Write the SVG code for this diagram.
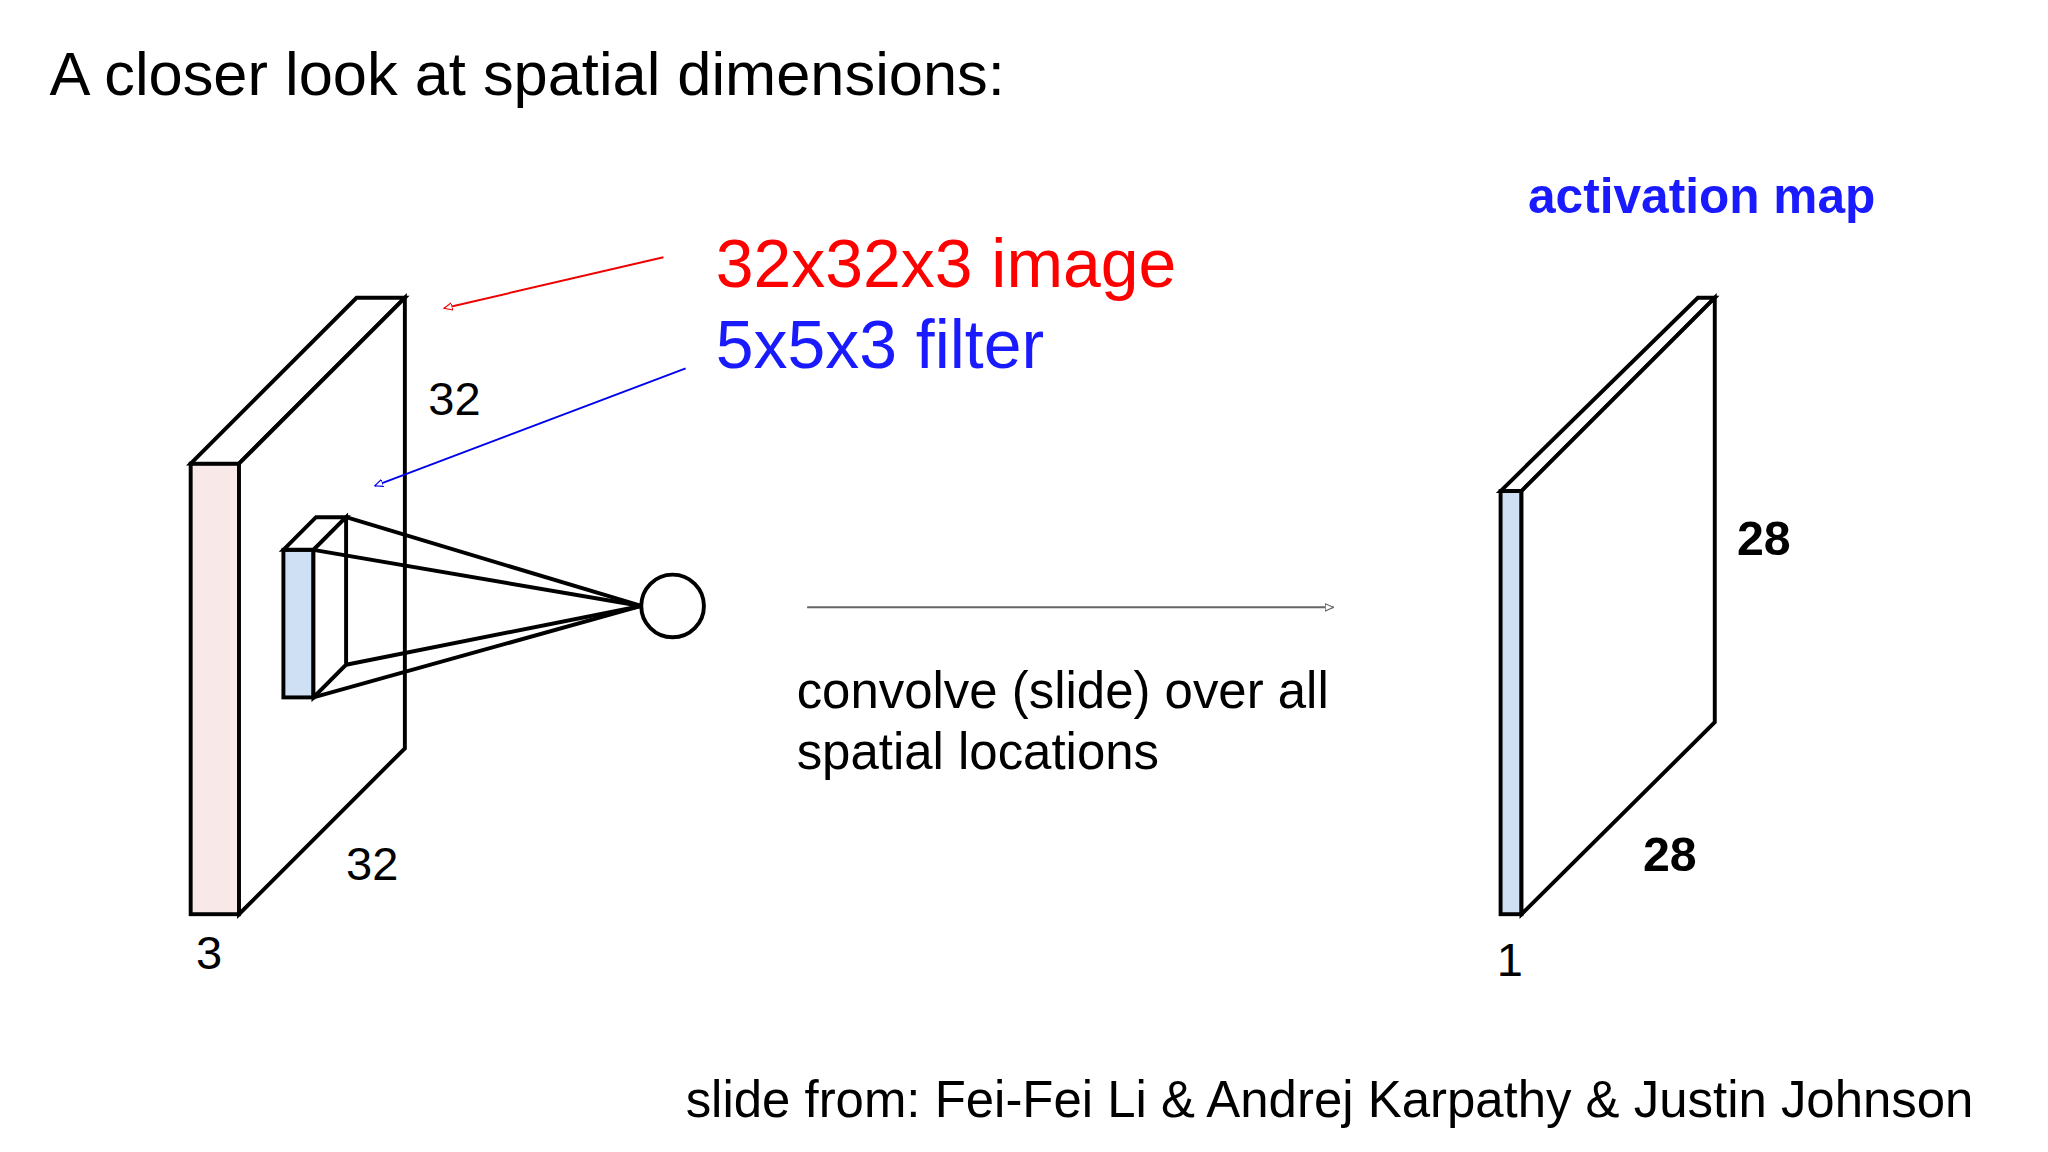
<svg xmlns="http://www.w3.org/2000/svg" width="2048" height="1152" viewBox="0 0 2048 1152">
<style>
text{font-family:"Liberation Sans",Arial,sans-serif;fill:#000}
.s{stroke:#000;stroke-width:3;stroke-linejoin:miter}
.c{stroke:#000;stroke-width:3}
</style>
<defs>
<marker id="ar" viewBox="0 0 10 10" refX="9" refY="5" markerWidth="7" markerHeight="7" orient="auto" markerUnits="userSpaceOnUse"><path d="M0,1 L9,5 L0,9 Z" fill="#fff" stroke="#e00" stroke-width="1.2"/></marker>
<marker id="ab" viewBox="0 0 10 10" refX="9" refY="5" markerWidth="7" markerHeight="7" orient="auto" markerUnits="userSpaceOnUse"><path d="M0,1 L9,5 L0,9 Z" fill="#fff" stroke="#00e" stroke-width="1.2"/></marker>
<marker id="ag" viewBox="0 0 10 10" refX="9" refY="5" markerWidth="7" markerHeight="7" orient="auto" markerUnits="userSpaceOnUse"><path d="M0,1 L9,5 L0,9 Z" fill="#fff" stroke="#666" stroke-width="1.2"/></marker>
</defs>
<rect width="2048" height="1152" fill="#fff"/>
<g transform="scale(1.306)">
<text x="38" y="73" font-size="47">A closer look at spatial dimensions:</text>
<g id="image">
<rect class="s" x="146" y="355" width="37" height="345" fill="#f9e8e8"/>
<polygon class="s" points="146,355 273,228 310,228 183,355" fill="#fff"/>
<polygon class="s" points="183,355 310,228 310,573 183,700" fill="#fff"/>
<text x="328" y="318" font-size="36">32</text>
<text x="265" y="674" font-size="36">32</text>
<text x="150" y="742" font-size="36">3</text>
</g>
<g id="filter">
<rect class="s" x="217" y="421" width="23" height="113" fill="#cfe0f5"/>
<polygon class="s" points="217,421 242,396 265,396 240,421" fill="#fff"/>
<polygon class="s" points="240,421 265,396 265,509 240,534" fill="#fff"/>
</g>
<g id="neuron">
<circle class="c" cx="515" cy="464" r="24" fill="#fff"/>
</g>
<g id="activation">
<rect class="s" x="1149" y="376" width="16" height="324" fill="#cfe0f5"/>
<polygon class="s" points="1149,376 1300,228 1313,228 1165,376" fill="#fff"/>
<polygon class="s" points="1165,376 1313,228 1313,553 1165,700" fill="#fff"/>
<text x="1170" y="163" font-size="38" font-weight="bold" style="fill:#1a1aff">activation map</text>
<text x="1330" y="425" font-size="37" font-weight="bold">28</text>
<text x="1258" y="667" font-size="37" font-weight="bold">28</text>
<text x="1146" y="747" font-size="36">1</text>
</g>
<g id="connectors" fill="none">
<line class="c" x1="240" y1="421" x2="491" y2="464"/>
<line class="c" x1="265" y1="396" x2="491" y2="464"/>
<line class="c" x1="265" y1="509" x2="491" y2="464"/>
<line class="c" x1="240" y1="534" x2="491" y2="464"/>
<line x1="508" y1="197" x2="340" y2="236" stroke="#e00" stroke-width="1.5" marker-end="url(#ar)"/>
<line x1="525" y1="282" x2="287" y2="372" stroke="#00e" stroke-width="1.5" marker-end="url(#ab)"/>
<line x1="618" y1="465" x2="1021" y2="465" stroke="#666" stroke-width="1.5" marker-end="url(#ag)"/>
</g>
<text x="548" y="220" font-size="52" style="fill:#f00">32x32x3 image</text>
<text x="548" y="282" font-size="52" style="fill:#1a1aff">5x5x3 filter</text>
<text x="610" y="542" font-size="39">convolve (slide) over all</text>
<text x="610" y="589" font-size="39">spatial locations</text>
<text x="525" y="855" font-size="39">slide from: Fei-Fei Li &amp; Andrej Karpathy &amp; Justin Johnson</text>
</g>
</svg>
